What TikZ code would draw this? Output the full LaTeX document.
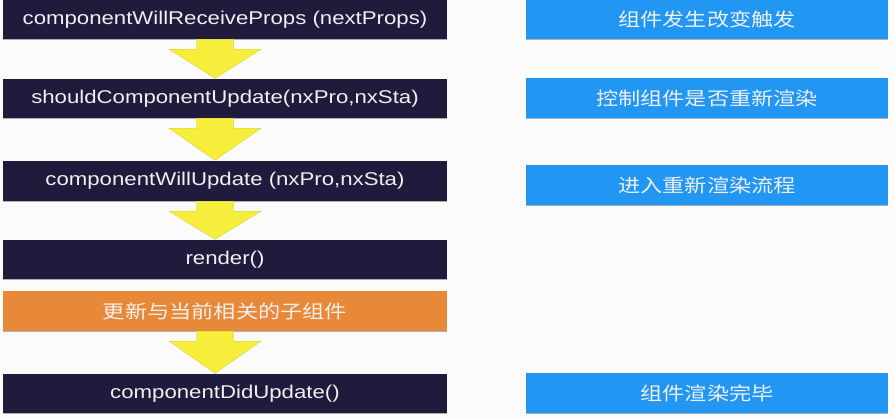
\documentclass[tikz,border=0pt]{standalone}
\usepackage{fontspec}
\setmainfont{Liberation Sans}[FakeStretch=1.2]
\newfontfamily\cjk{Noto Sans CJK SC}[FakeStretch=1.2]
\usetikzlibrary{calc,shadows}
\definecolor{navy}{HTML}{201A3D}
\definecolor{skyblue}{HTML}{2196F3}
\definecolor{orangebox}{HTML}{E8893A}
\definecolor{yel}{HTML}{F6EE3A}
\definecolor{bg}{HTML}{FBFBFB}
\tikzset{
  basebox/.style={inner sep=0pt, text=white!94!black,
    font=\fontsize{18.5}{20}\selectfont,
    drop shadow={shadow xshift=0pt, shadow yshift=-1.5pt, opacity=0.3, fill=black}},
  leftbox/.style={basebox, fill=navy, minimum width=444pt, minimum height=#1},
  orangebox/.style={basebox, fill=orangebox, minimum width=444pt, minimum height=40pt},
  rightbox/.style={basebox, fill=skyblue, minimum width=362pt, minimum height=#1},
  yarrow/.style={fill=yel, draw=yel!85!black, line width=0.3pt},
}
\newcommand{\yarr}[2]{%
  \fill[yarrow]
    ($(ax |- #1.south)+(-18.5pt,0)$) -- ($(ax |- #1.south)+(18.5pt,0)$) --
    ($(ax |- #1.south)+(18.5pt,-10pt)$) -- ($(ax |- #1.south)+(46pt,-10pt)$) --
    ($(ax |- #2.north)+(0,0.5pt)$) --
    ($(ax |- #1.south)+(-46pt,-10pt)$) -- ($(ax |- #1.south)+(-18.5pt,-10pt)$) -- cycle;}
\begin{document}
\begin{tikzpicture}[x=1pt,y=-1pt]
\fill[bg] (0,0) rectangle (895,419);
\useasboundingbox (0,0) rectangle (895,419);
\coordinate (ax) at (215,0);
% left column
\node[leftbox=39pt] (l1) at (225,19.5) {componentWillReceiveProps (nextProps)};
\node[leftbox=39pt] (l2) at (225,98.5) {shouldComponentUpdate(nxPro,nxSta)};
\node[leftbox=40pt] (l3) at (225,181) {componentWillUpdate (nxPro,nxSta)};
\node[leftbox=39pt] (l4) at (225,259.5) {render()};
\node[orangebox] (l5) at (225,311) {\cjk 更新与当前相关的子组件};
\node[leftbox=39pt] (l6) at (225,393.5) {componentDidUpdate()};
% right column
\node[rightbox=39pt] (r1) at (707,19.5) {\cjk 组件发生改变触发};
\node[rightbox=40pt] (r2) at (707,98) {\cjk 控制组件是否重新渲染};
\node[rightbox=40pt] (r3) at (707,185) {\cjk 进入重新渲染流程};
\node[rightbox=40pt] (r4) at (707,393) {\cjk 组件渲染完毕};
% arrows
\yarr{l1}{l2}
\yarr{l2}{l3}
\yarr{l3}{l4}
\yarr{l5}{l6}
\end{tikzpicture}
\end{document}
